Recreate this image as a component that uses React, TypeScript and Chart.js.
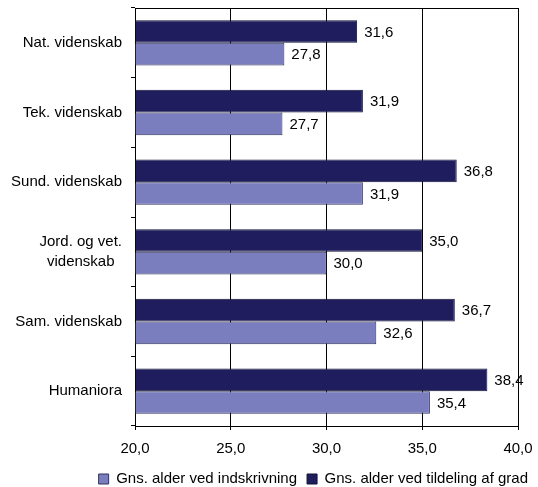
import React, { useEffect, useRef } from 'react';
import { Chart, registerables } from 'chart.js';

Chart.register(...registerables);

const categories: (string | string[])[] = [
  'Nat. videnskab',
  'Tek. videnskab',
  'Sund. videnskab',
  ['Jord. og vet.', 'videnskab'],
  'Sam. videnskab',
  'Humaniora',
];
const tildelingLabel = 'Gns. alder ved tildeling af grad';
const indskrivningLabel = 'Gns. alder ved indskrivning';
const tildelingValues = [31.6, 31.9, 36.8, 35.0, 36.7, 38.4];
const indskrivningValues = [27.8, 27.7, 31.9, 30.0, 32.6, 35.4];
const xMin = 20;
const xMax = 40;
const xStep = 5;

const FONT = '"Liberation Sans", Arial, sans-serif';
const fmt = (v: number) => v.toFixed(1).replace('.', ',');

const framePlugin = {
  id: 'frame',
  beforeDatasetsDraw(chart: any) {
    const { ctx, chartArea } = chart;
    ctx.save();
    ctx.strokeStyle = '#000';
    ctx.lineWidth = 1;
    const y = Math.round(chartArea.top) + 0.5;
    ctx.beginPath();
    ctx.moveTo(chartArea.left, y);
    ctx.lineTo(chartArea.right, y);
    ctx.stroke();
    ctx.restore();
  },
};

const valueLabelPlugin = {
  id: 'valueLabels',
  afterDatasetsDraw(chart: any) {
    const ctx = chart.ctx;
    ctx.save();
    ctx.font = '15px ' + FONT;
    ctx.fillStyle = '#000';
    ctx.textBaseline = 'middle';
    ctx.textAlign = 'left';
    chart.data.datasets.forEach((ds: any, i: number) => {
      const meta = chart.getDatasetMeta(i);
      meta.data.forEach((el: any, j: number) => {
        ctx.fillText(fmt(ds.data[j]), el.x + 7, el.y + 1);
      });
    });
    ctx.restore();
  },
};

const yLabelPlugin = {
  id: 'yLabels',
  afterDraw(chart: any) {
    const { ctx, chartArea } = chart;
    const yScale = chart.scales.y;
    ctx.save();
    ctx.font = '15px ' + FONT;
    ctx.fillStyle = '#000';
    ctx.textBaseline = 'middle';
    ctx.textAlign = 'center';
    const right = chartArea.left - 13;
    const lineH = 20;
    categories.forEach((lab, i) => {
      const lines = Array.isArray(lab) ? lab : [lab];
      const maxW = Math.max(...lines.map((l) => ctx.measureText(l).width));
      const cx = right - maxW / 2;
      const cy = yScale.getPixelForTick(i);
      const startY = cy - ((lines.length - 1) * lineH) / 2;
      lines.forEach((l, k) => ctx.fillText(l, cx, startY + k * lineH));
    });
    ctx.restore();
  },
};

export default function App() {
  const ref = useRef<HTMLCanvasElement>(null);
  useEffect(() => {
    if (!ref.current) return;
    const chart = new Chart(ref.current, {
      type: 'bar',
      data: {
        labels: categories as any,
        datasets: [
          {
            label: tildelingLabel,
            data: tildelingValues,
            backgroundColor: '#1F1D5E',
            borderColor: '#111133',
            borderWidth: 1,
            base: xMin,
            categoryPercentage: 0.65,
            barPercentage: 1.0,
          },
          {
            label: indskrivningLabel,
            data: indskrivningValues,
            backgroundColor: '#7A7EBE',
            borderColor: '#33335A',
            borderWidth: 1,
            base: xMin,
            categoryPercentage: 0.65,
            barPercentage: 1.0,
          },
        ],
      },
      options: {
        indexAxis: 'y',
        responsive: false,
        animation: false,
        layout: { padding: { top: 8, left: 0, right: 0, bottom: -9.5 } },
        scales: {
          x: {
            min: xMin,
            max: xMax,
            ticks: {
              stepSize: xStep,
              color: '#000',
              font: { family: FONT, size: 15 },
              padding: 10,
              callback: (v: any) => fmt(Number(v)),
            },
            grid: { color: '#000', lineWidth: 1, tickLength: 4, drawTicks: true },
            border: { color: '#000', width: 1 },
            afterFit: (s: any) => {
              s.height = 35.5;
              s.paddingRight = 20;
            },
          },
          y: {
            ticks: { color: 'rgba(0,0,0,0)', font: { family: FONT, size: 15 } },
            grid: { drawOnChartArea: false, drawTicks: true, tickLength: 4, color: '#000', offset: true },
            border: { color: '#000', width: 1 },
            afterFit: (s: any) => {
              s.width = 135;
              s.paddingTop = 0;
              s.paddingBottom = 0;
            },
          },
        },
        plugins: {
          legend: {
            position: 'bottom',
            align: 'end',
            reverse: true,
            labels: {
              color: '#000',
              font: { family: FONT, size: 15 },
              boxWidth: 10,
              boxHeight: 10,
              padding: 10,
            },
          },
          tooltip: { enabled: false },
        },
      },
      plugins: [framePlugin, valueLabelPlugin, yLabelPlugin],
    });
    return () => chart.destroy();
  }, []);
  return (
    <div style={{ position: 'absolute', left: 0, top: 0, width: 538, height: 487, background: '#fff' }}>
      <canvas ref={ref} width={538} height={487} style={{ display: 'block' }} />
    </div>
  );
}
